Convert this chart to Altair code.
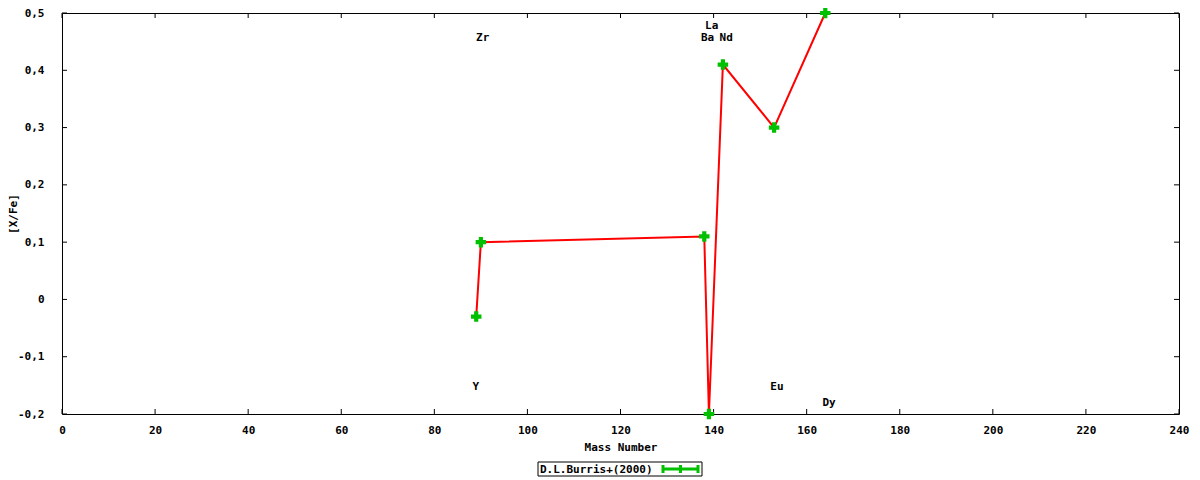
import altair as alt
import pandas as pd

# abundance pattern, D.L.Burris+(2000)
elements = ["Y", "Zr", "Ba", "La", "Nd", "Eu", "Dy"]
mass = [89, 90, 138, 139, 142, 153, 164]
xfe = [-0.03, 0.10, 0.11, -0.20, 0.41, 0.30, 0.50]

# where the element names sit
label_x = [88.9, 90.4, 138.7, 139.6, 142.7, 153.6, 164.8]
label_y = [-0.153, 0.456, 0.456, 0.478, 0.456, -0.153, -0.181]

x_ticks = list(range(0, 241, 20))
y_ticks = [-0.2, -0.1, 0.0, 0.1, 0.2, 0.3, 0.4, 0.5]

W, H = 1117, 401
FONT = "DejaVu Sans Mono"

pts = pd.DataFrame({"el": elements, "mass": mass, "xfe": xfe})
labs = pd.DataFrame({"el": elements, "lx": label_x, "ly": label_y})
xt = pd.DataFrame({"t": x_ticks})
yt = pd.DataFrame({"t": y_ticks})

xs = alt.Scale(domain=[0, 240], nice=False)
ys = alt.Scale(domain=[-0.2, 0.5], nice=False)

x_axis = alt.Axis(values=x_ticks, ticks=False, grid=False, domain=False,
                  labelPadding=10, labelFlush=False, title="Mass Number", titlePadding=6)
y_axis = alt.Axis(values=y_ticks, ticks=False, grid=False, domain=False,
                  labelPadding=18, labelFlush=False, title="[X/Fe]",
                  titleX=-49, titleY=H / 2, titleAngle=270,
                  titleAlign="center", titleBaseline="middle",
                  labelExpr="replace(toString(round(datum.value*10)/10), '.', ',')")

line = alt.Chart(pts).mark_line(color="#ff0000", strokeWidth=2).encode(
    x=alt.X("mass:Q", scale=xs, axis=x_axis),
    y=alt.Y("xfe:Q", scale=ys, axis=y_axis),
)

marks = alt.Chart(pts).mark_point(shape="cross", filled=True, size=110,
                                   color="#00c000", opacity=1).encode(
    x=alt.X("mass:Q", scale=xs),
    y=alt.Y("xfe:Q", scale=ys),
)

names = alt.Chart(labs).mark_text(font=FONT, fontSize=11, fontWeight="bold",
                                  color="black", baseline="middle").encode(
    x=alt.X("lx:Q", scale=xs),
    y=alt.Y("ly:Q", scale=ys),
    text="el:N",
)

# gnuplot style inward ticks on all four sides
tick_style = dict(color="black", strokeWidth=1)
bottom_ticks = alt.Chart(xt).mark_rule(**tick_style).encode(
    x=alt.X("t:Q", scale=xs), y=alt.value(H), y2=alt.value(H - 5))
top_ticks = alt.Chart(xt).mark_rule(**tick_style).encode(
    x=alt.X("t:Q", scale=xs), y=alt.value(0), y2=alt.value(5))
left_ticks = alt.Chart(yt).mark_rule(**tick_style).encode(
    y=alt.Y("t:Q", scale=ys), x=alt.value(0), x2=alt.value(5))
right_ticks = alt.Chart(yt).mark_rule(**tick_style).encode(
    y=alt.Y("t:Q", scale=ys), x=alt.value(W), x2=alt.value(W - 5))

# legend box under the plot
leg = pd.DataFrame({"name": ["D.L.Burris+(2000)"]})
leg_box = alt.Chart(leg).mark_rect(fill="white", stroke="black", strokeWidth=1).encode(
    x=alt.value(476), x2=alt.value(640), y=alt.value(449), y2=alt.value(463))
leg_text = alt.Chart(leg).mark_text(font=FONT, fontSize=11, fontWeight="bold",
                                    align="left", baseline="middle", color="black").encode(
    x=alt.value(478), y=alt.value(456.5), text="name:N")
leg_line = alt.Chart(leg).mark_rule(color="#00c000", strokeWidth=3).encode(
    x=alt.value(601), x2=alt.value(636), y=alt.value(456))
leg_caps = alt.Chart(pd.DataFrame({"c": [601, 618.5, 636]})).mark_rule(
    color="#00c000", strokeWidth=3).encode(
    x=alt.X("c:Q", scale=None), y=alt.value(452), y2=alt.value(460))

chart = alt.layer(
    bottom_ticks, top_ticks, left_ticks, right_ticks,
    line, marks, names,
    leg_box, leg_text, leg_line, leg_caps,
).properties(
    width=W, height=H,
    autosize=alt.AutoSizeParams(type="none"),
    padding={"left": 54, "top": 5, "right": 12, "bottom": 64},
    background="white",
).configure_view(
    stroke="black", strokeWidth=1,
).configure_axis(
    labelFont=FONT, labelFontSize=11, labelFontWeight="bold", labelColor="black",
    titleFont=FONT, titleFontSize=11, titleFontWeight="bold", titleColor="black",
)

chart.save("out.html", embed_options={"renderer": "svg", "actions": False})
